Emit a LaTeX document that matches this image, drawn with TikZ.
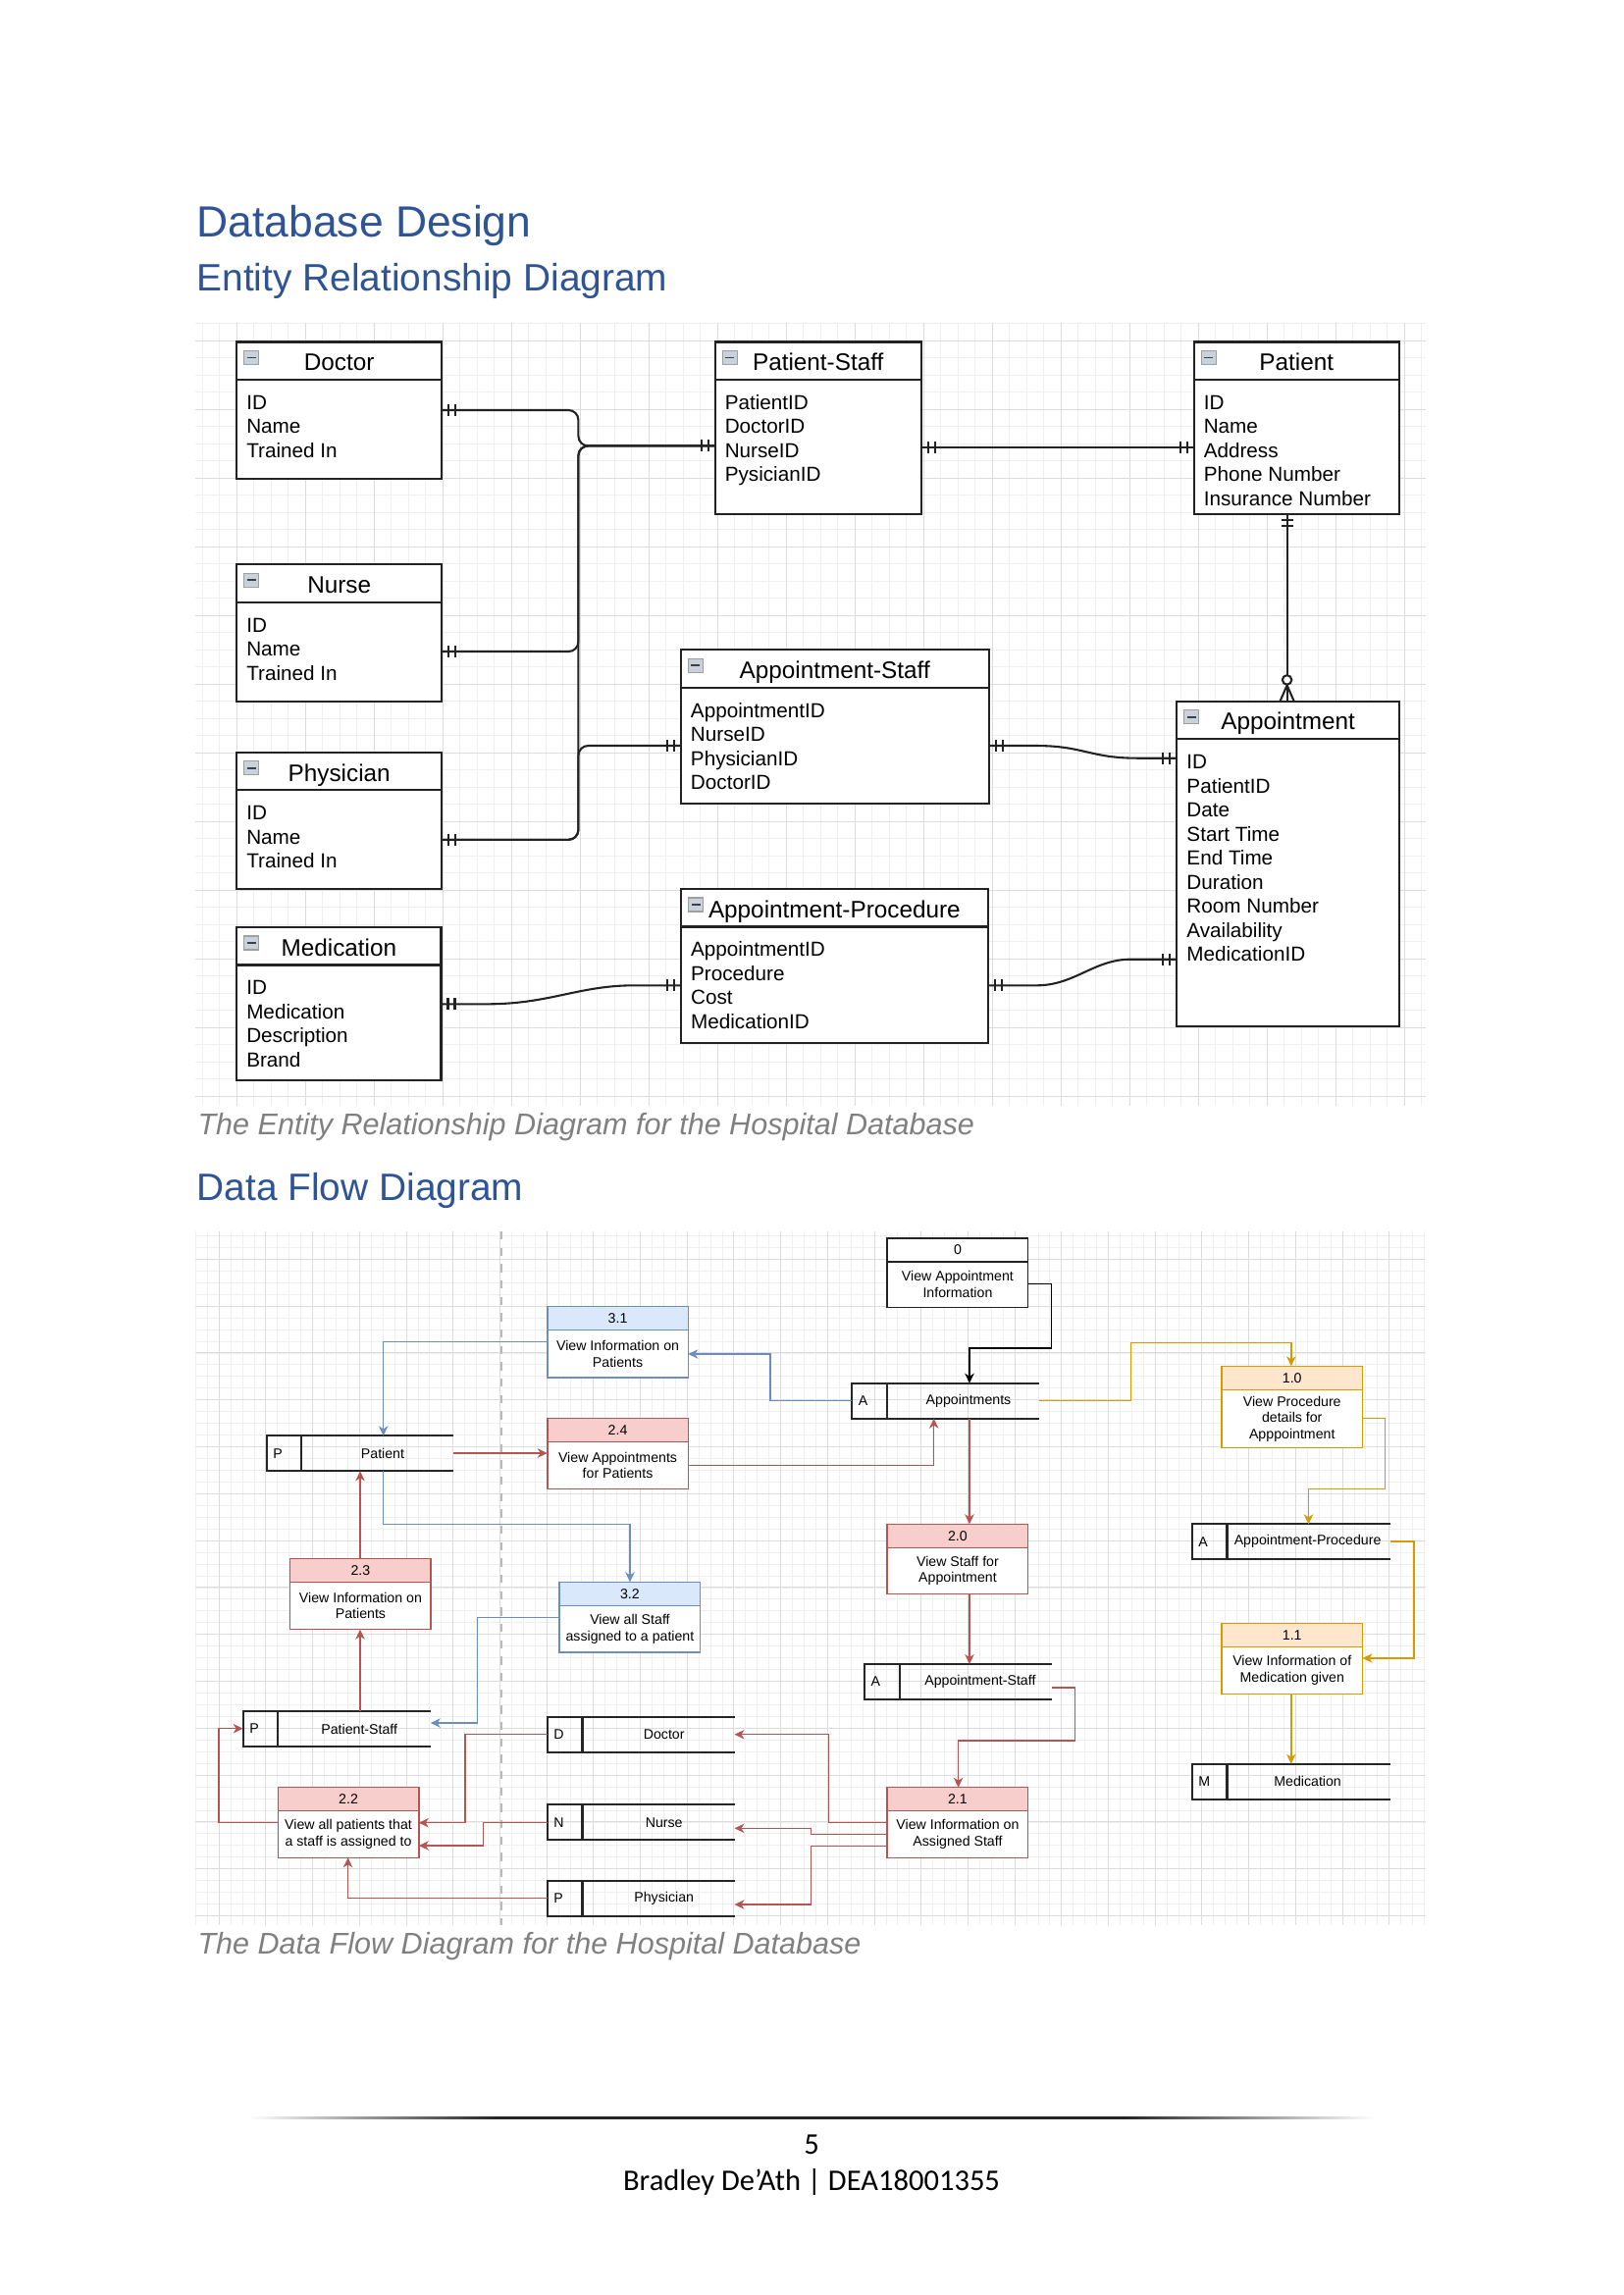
\documentclass[tikz,border=0pt]{standalone}
\usepackage{fontspec}
\setmainfont{Liberation Sans}
\newfontfamily\footfont{Carlito}
\usetikzlibrary{arrows.meta,calc,decorations.markings}
\definecolor{hblue}{RGB}{47,84,150}
\definecolor{capgray}{RGB}{128,128,128}
\definecolor{redS}{HTML}{B85450}
\definecolor{redF}{HTML}{F8CECC}
\definecolor{blueS}{HTML}{6C8EBF}
\definecolor{blueF}{HTML}{DAE8FC}
\definecolor{orgS}{HTML}{D79B00}
\definecolor{orgF}{HTML}{FFE6CC}
\definecolor{blkS}{HTML}{222222}
\definecolor{blkF}{HTML}{FFFFFF}
\definecolor{erk}{HTML}{222222}
\definecolor{iconF}{HTML}{C9D1DC}
\definecolor{gridmaj}{HTML}{DCDCDC}
\definecolor{gridmin}{HTML}{EFEFEF}
\pgfdeclarehorizontalshading{footline}{100bp}{color(0bp)=(white); color(25bp)=(white); color(36bp)=(black!85); color(64bp)=(black!85); color(75bp)=(white); color(100bp)=(white)}

\newcommand\erEnt[7]{%
  \node[ent, minimum width=#4*0.36pt, minimum height=#5*0.36pt] (#1) at (#2,#3) {};
  \draw[entline] ($(#1.north west)+(0,38.5)$) -- ($(#1.north east)+(0,38.5)$);
  \draw[icon] ($(#1.north west)+(7.5,9)$) rectangle ($(#1.north west)+(22.5,23)$);
  \draw[iconminus] ($(#1.north west)+(10.5,16)$) -- ($(#1.north west)+(19.5,16)$);
  \node[ertitle] (#1-t) at ($(#1.north)+(0,29.2)$) {#6};
  \foreach \a [count=\i from 0] in {#7} {\node[erattr] (#1-a\i) at ($(#1.north west)+(9.5,68.9+24.5*\i)$) {\a};}
}
\newcommand\dfProc[7]{%
  \node[procbox, draw=#5S, minimum height=#4*0.36pt] (#1) at (#2,#3) {};
  \draw[draw=#5S, fill=#5F, line width=0.55pt] (#1.north west) rectangle ($(#1.north east)+(0,24)$);
  \node[dtext] (#1-n) at ($(#1.north)+(0,12)$) {#6};
  \node[dtext] (#1-b) at ($(#1.center)+(0,12)$) {#7};
}
\newcommand\dfStore[7]{%
  \node[storebox, minimum width=#4*0.36pt] (#1) at (#2,#3) {};
  \draw[storeline] (#1.north east) -- (#1.north west) -- (#1.south west) -- (#1.south east);
  \draw[storeline] ($(#1.north west)+(35.7,0)$) -- ($(#1.south west)+(35.7,0)$);
  \node[dtext, anchor=west] (#1-l) at ($(#1.west)+(6,0)$) {#5};
  \node[dtext] (#1-t) at (#7, 0 |- #1.center) {#6};
}

\begin{document}
\begin{tikzpicture}[x=0.36pt,y=-0.36pt,
  gmin/.style={draw=gridmin, line width=0.3pt},
  gmaj/.style={draw=gridmaj, line width=0.36pt},
  ent/.style={draw=erk, line width=0.75pt, fill=white, inner sep=0pt, outer sep=0pt, anchor=north west},
  entline/.style={draw=erk, line width=0.75pt},
  icon/.style={draw=gray!75, fill=iconF, line width=0.4pt},
  iconminus/.style={draw=black!75, line width=0.7pt},
  ertitle/.style={font=\fontsize{8.75}{10}\selectfont, inner sep=0pt, anchor=base},
  erattr/.style={font=\fontsize{7.45}{9}\selectfont, inner sep=0pt, anchor=base west},
  erline/.style={draw=erk, line width=0.75pt},
  tk/.style={draw=erk, line width=0.75pt},
  ones/.style={postaction={decorate}, decoration={markings,
    mark=at position 2.52pt with {\draw[tk] (0,-6) -- (0,6);},
    mark=at position 5.04pt with {\draw[tk] (0,-6) -- (0,6);},
    mark=at position -2.52pt with {\draw[tk] (0,-6) -- (0,6);},
    mark=at position -5.04pt with {\draw[tk] (0,-6) -- (0,6);}}},
  onemany/.style={postaction={decorate}, decoration={markings,
    mark=at position 2.2pt with {\draw[tk] (0,-6) -- (0,6);},
    mark=at position 4.6pt with {\draw[tk] (0,-6) -- (0,6);},
    mark=at position 0.999 with {\draw[tk] (-16,0) -- (0,-7) (-16,0) -- (0,7); \draw[tk, fill=white] (-21.5,0) circle[radius=1.7pt];}}},
  procbox/.style={line width=0.55pt, fill=white, minimum width=143.5*0.36pt, inner sep=0pt, outer sep=0pt, anchor=north west},
  storebox/.style={minimum height=36*0.36pt, inner sep=0pt, outer sep=0pt, anchor=north west},
  storeline/.style={draw=black!85, line width=0.75pt},
  dtext/.style={font=\fontsize{5.1}{6}\selectfont, align=center, inner sep=0pt},
  arr/.style={-{Stealth[length=3.6pt,width=3.4pt,inset=1.1pt]}, line width=0.55pt},
  rl/.style={arr, draw=redS}, bl/.style={arr, draw=blueS}, ol/.style={arr, draw=orgS}, kl/.style={arr, draw=black},
  h1/.style={font=\fontsize{16}{19}\selectfont, text=hblue, inner sep=0pt, anchor=base west},
  h2/.style={font=\fontsize{14}{17}\selectfont, text=hblue, inner sep=0pt, anchor=base west},
  captext/.style={font=\fontsize{11}{13}\selectfont\itshape, text=capgray, inner sep=0pt, anchor=base west},
  foot/.style={font=\footfont\fontsize{11}{13}\selectfont, inner sep=0pt, anchor=base}
]
\useasboundingbox (0,0) rectangle (1654,2339);
\fill[white] (0,0) rectangle (1654,2339);

% ---------- ER grid ----------
\foreach \k in {-2,...,69} {\draw[gmin] ({241.2+17.5*\k},329) -- ({241.2+17.5*\k},1127);}
\foreach \k in {-1,...,44} {\draw[gmin] (199,{347+17.5*\k}) -- (1453,{347+17.5*\k});}
\foreach \k in {0,...,17} {\draw[gmaj] ({241.2+70*\k},329) -- ({241.2+70*\k},1127);}
\foreach \k in {0,...,11} {\draw[gmaj] (199,{347+70*\k}) -- (1453,{347+70*\k});}

% ---------- DFD grid ----------
\foreach \k in {-2,...,103} {\draw[gmin] ({223.2+11.925*\k},1255) -- ({223.2+11.925*\k},1962);}
\foreach \k in {-2,...,56} {\draw[gmin] (199,{1283.3+11.95*\k}) -- (1453,{1283.3+11.95*\k});}
\foreach \k in {0,...,25} {\draw[gmaj] ({223.2+47.7*\k},1255) -- ({223.2+47.7*\k},1962);}
\foreach \k in {0,...,14} {\draw[gmaj] (199,{1283.3+47.8*\k}) -- (1453,{1283.3+47.8*\k});}
\draw[gray!55, dashed, line width=0.4pt] (511,1255) -- (511,1962);

% ---------- headings ----------
\node[h1] (title) at (200,241.7) {Database Design};
\node[h2] (erhead) at (200,296) {Entity Relationship Diagram};
\node[h2] (dfdhead) at (200,1223.3) {Data Flow Diagram};
\node[captext] (ercap) at (201,1156) {The Entity Relationship Diagram for the Hospital Database};
\node[captext] (dfdcap) at (201,1991) {The Data Flow Diagram for the Hospital Database};

% ---------- ER entities ----------
\erEnt{doctor}{241.2}{348.5}{209}{139.5}{Doctor}{ID,Name,Trained In}
\erEnt{nurse}{241.2}{575.4}{209}{139.2}{Nurse}{ID,Name,Trained In}
\erEnt{physician}{241.2}{766.8}{209}{139.6}{Physician}{ID,Name,Trained In}
\erEnt{medication}{241.2}{945}{208.3}{156}{Medication}{ID,Medication,Description,Brand}
\erEnt{pstaff}{728.7}{348.5}{210}{175.1}{Patient-Staff}{PatientID,DoctorID,NurseID,PysicianID}
\erEnt{patient}{1216.7}{348.5}{209.2}{175.1}{Patient}{ID,Name,Address,Phone Number,Insurance Number}
\erEnt{astaff}{693.9}{662.4}{313.7}{157}{Appointment-Staff}{AppointmentID,NurseID,PhysicianID,DoctorID}
\erEnt{aproc}{694}{906}{312.7}{156.7}{Appointment-Procedure}{AppointmentID,Procedure,Cost,MedicationID}
\erEnt{appointment}{1199.4}{714.6}{226.5}{331.1}{Appointment}{ID,PatientID,Date,Start Time,End Time,Duration,Room Number,Availability,MedicationID}

% ---------- ER connectors ----------
\draw[erline, ones, rounded corners=3.6pt] (doctor.east |- 0,418) -- (589.4,418) -- (589.4,454.4) -- (pstaff.west |- 0,454.4);
\draw[erline, ones, rounded corners=3.6pt] (nurse.east |- 0,664) -- (589.4,664) -- (589.4,454.4) -- (pstaff.west |- 0,454.4);
\draw[erline, ones, rounded corners=3.6pt] (physician.east |- 0,855.8) -- (589.4,855.8) -- (589.4,454.4) -- (pstaff.west |- 0,454.4);
\draw[erline, ones, rounded corners=3.6pt] (physician.east |- 0,855.8) -- (589.4,855.8) -- (589.4,760) -- (astaff.west |- 0,760);
\draw[erline, ones] (pstaff.east |- 0,455.6) -- (patient.west |- 0,455.6);
\draw[erline, onemany] (1311.6,0 |- patient.south) -- (1311.6,0 |- appointment.north);
\draw[erline, ones] (astaff.east |- 0,760) -- (1055,760) .. controls (1105,760) and (1110,772.7) .. (1159.6,772.7) -- (appointment.west |- 0,772.7);
\draw[erline, ones] (medication.east |- 0,1023.3) -- (496.8,1023.3) .. controls (560,1023.3) and (590,1004.3) .. (646,1004.3) -- (aproc.west |- 0,1004.3);
\draw[erline, ones] (aproc.east |- 0,1004.3) -- (1056.5,1004.3) .. controls (1095,1004.3) and (1115,977.7) .. (1152,977.7) -- (appointment.west |- 0,977.7);

% ---------- DFD processes ----------
\dfProc{p0}{904.2}{1262}{70.3}{blk}{0}{View Appointment\\Information}
\dfProc{p31}{557.8}{1331.7}{72.3}{blue}{3.1}{View Information on\\Patients}
\dfProc{p24}{557.8}{1445.7}{71.6}{red}{2.4}{View Appointments\\for Patients}
\dfProc{p10}{1245}{1392.3}{83.4}{org}{1.0}{View Procedure\\details for\\Apppointment}
\dfProc{p20}{904.2}{1553.3}{71}{red}{2.0}{View Staff for\\Appointment}
\dfProc{p23}{295.7}{1588.3}{72.4}{red}{2.3}{View Information on\\Patients}
\dfProc{p32}{570.2}{1612.3}{71.7}{blue}{3.2}{View all Staff\\assigned to a patient}
\dfProc{p11}{1245}{1654.3}{72.4}{org}{1.1}{View Information of\\Medication given}
\dfProc{p22}{283.3}{1821.7}{71.6}{red}{2.2}{View all patients that\\a staff is assigned to}
\dfProc{p21}{904.2}{1821.7}{71.6}{red}{2.1}{View Information on\\Assigned Staff}

% ---------- DFD stores ----------
\dfStore{sApp}{868.4}{1409.7}{190.6}{A}{Appointments}{987}
\dfStore{sPat}{271.7}{1463.3}{190.7}{P}{Patient}{390}
\dfStore{sAP}{1214.8}{1553.3}{202}{A}{Appointment-Procedure}{1332.6}
\dfStore{sAS}{881}{1696}{190.7}{A}{Appointment-Staff}{998.9}
\dfStore{sPS}{247.7}{1744}{191.1}{P}{Patient-Staff}{366.2}
\dfStore{sDoc}{557.8}{1750}{190.7}{D}{Doctor}{676.7}
\dfStore{sNur}{557.8}{1839.3}{190.7}{N}{Nurse}{676.7}
\dfStore{sPhy}{557.8}{1916.7}{190.7}{P}{Physician}{676.7}
\dfStore{sMed}{1214.8}{1797.7}{202}{M}{Medication}{1332.6}

% ---------- DFD flows ----------
\draw[kl] (p0.east |- 0,1308.3) -- (1071.3,1308.3) -- (1071.3,1374) -- (988,1374) -- (988,0 |- sApp.north);
\draw[bl] (sApp.west |- 0,1427.7) -- (785,1427.7) -- (785,1380) -- (p31.east |- 0,1380);
\draw[bl] (p31.west |- 0,1367.7) -- (390.7,1367.7) -- (390.7,0 |- sPat.north);
\draw[bl] (390.7,0 |- sPat.south) -- (390.7,1553.3) -- (642,1553.3) -- (642,0 |- p32.north);
\draw[bl] (p32.west |- 0,1648.3) -- (486.5,1648.3) -- (486.5,1756) -- (sPS.east |- 0,1756);
\draw[rl] (sPat.east |- 0,1481) -- (p24.west |- 0,1481);
\draw[rl] (p24.east |- 0,1493.3) -- (951.7,1493.3) -- (951.7,0 |- sApp.south);
\draw[rl] (988,0 |- sApp.south) -- (988,0 |- p20.north);
\draw[rl] (988,0 |- p20.south) -- (988,0 |- sAS.north);
\draw[rl] (sAS.east |- 0,1720) -- (1095.7,1720) -- (1095.7,1774) -- (976.6,1774) -- (976.6,0 |- p21.north);
\draw[rl] (p21.west |- 0,1857.3) -- (844.3,1857.3) -- (844.3,1767.7) -- (sDoc.east |- 0,1767.7);
\draw[rl] (p21.west |- 0,1869.3) -- (826.7,1869.3) -- (826.7,1863.3) -- (sNur.east |- 0,1863.3);
\draw[rl] (p21.west |- 0,1881.3) -- (826.7,1881.3) -- (826.7,1941) -- (sPhy.east |- 0,1941);
\draw[rl] (sDoc.west |- 0,1767.7) -- (474,1767.7) -- (474,1857.7) -- (p22.east |- 0,1857.7);
\draw[rl] (sNur.west |- 0,1857.7) -- (492.7,1857.7) -- (492.7,1881) -- (p22.east |- 0,1881);
\draw[rl] (sPhy.west |- 0,1934.3) -- (354.6,1934.3) -- (354.6,0 |- p22.south);
\draw[rl] (p22.west |- 0,1857.7) -- (223.2,1857.7) -- (223.2,1761.7) -- (sPS.west |- 0,1761.7);
\draw[rl] (367,0 |- sPS.north) -- (367,0 |- p23.south);
\draw[rl] (367,0 |- p23.north) -- (367,0 |- sPat.south);
\draw[ol] (sApp.east |- 0,1427.7) -- (1152.5,1427.7) -- (1152.5,1368.3) -- (1315.8,1368.3) -- (1315.8,0 |- p10.north);
\draw[ol] (p10.east |- 0,1445.7) -- (1411.7,1445.7) -- (1411.7,1517.3) -- (1333.5,1517.3) -- (1333.5,0 |- sAP.north);
\draw[ol] (sAP.east |- 0,1571) -- (1441.2,1571) -- (1441.2,1690) -- (p11.east |- 0,1690);
\draw[ol] (1315.8,0 |- p11.south) -- (1315.8,0 |- sMed.north);

% ---------- footer ----------
\shade[shading=footline] (253,2157.2) rectangle (1400,2159.6);
\node[foot] (pagenum) at (827,2195) {5};
\node[foot] (author) at (827,2232.7) {Bradley De’Ath | DEA18001355};
\end{tikzpicture}
\end{document}
